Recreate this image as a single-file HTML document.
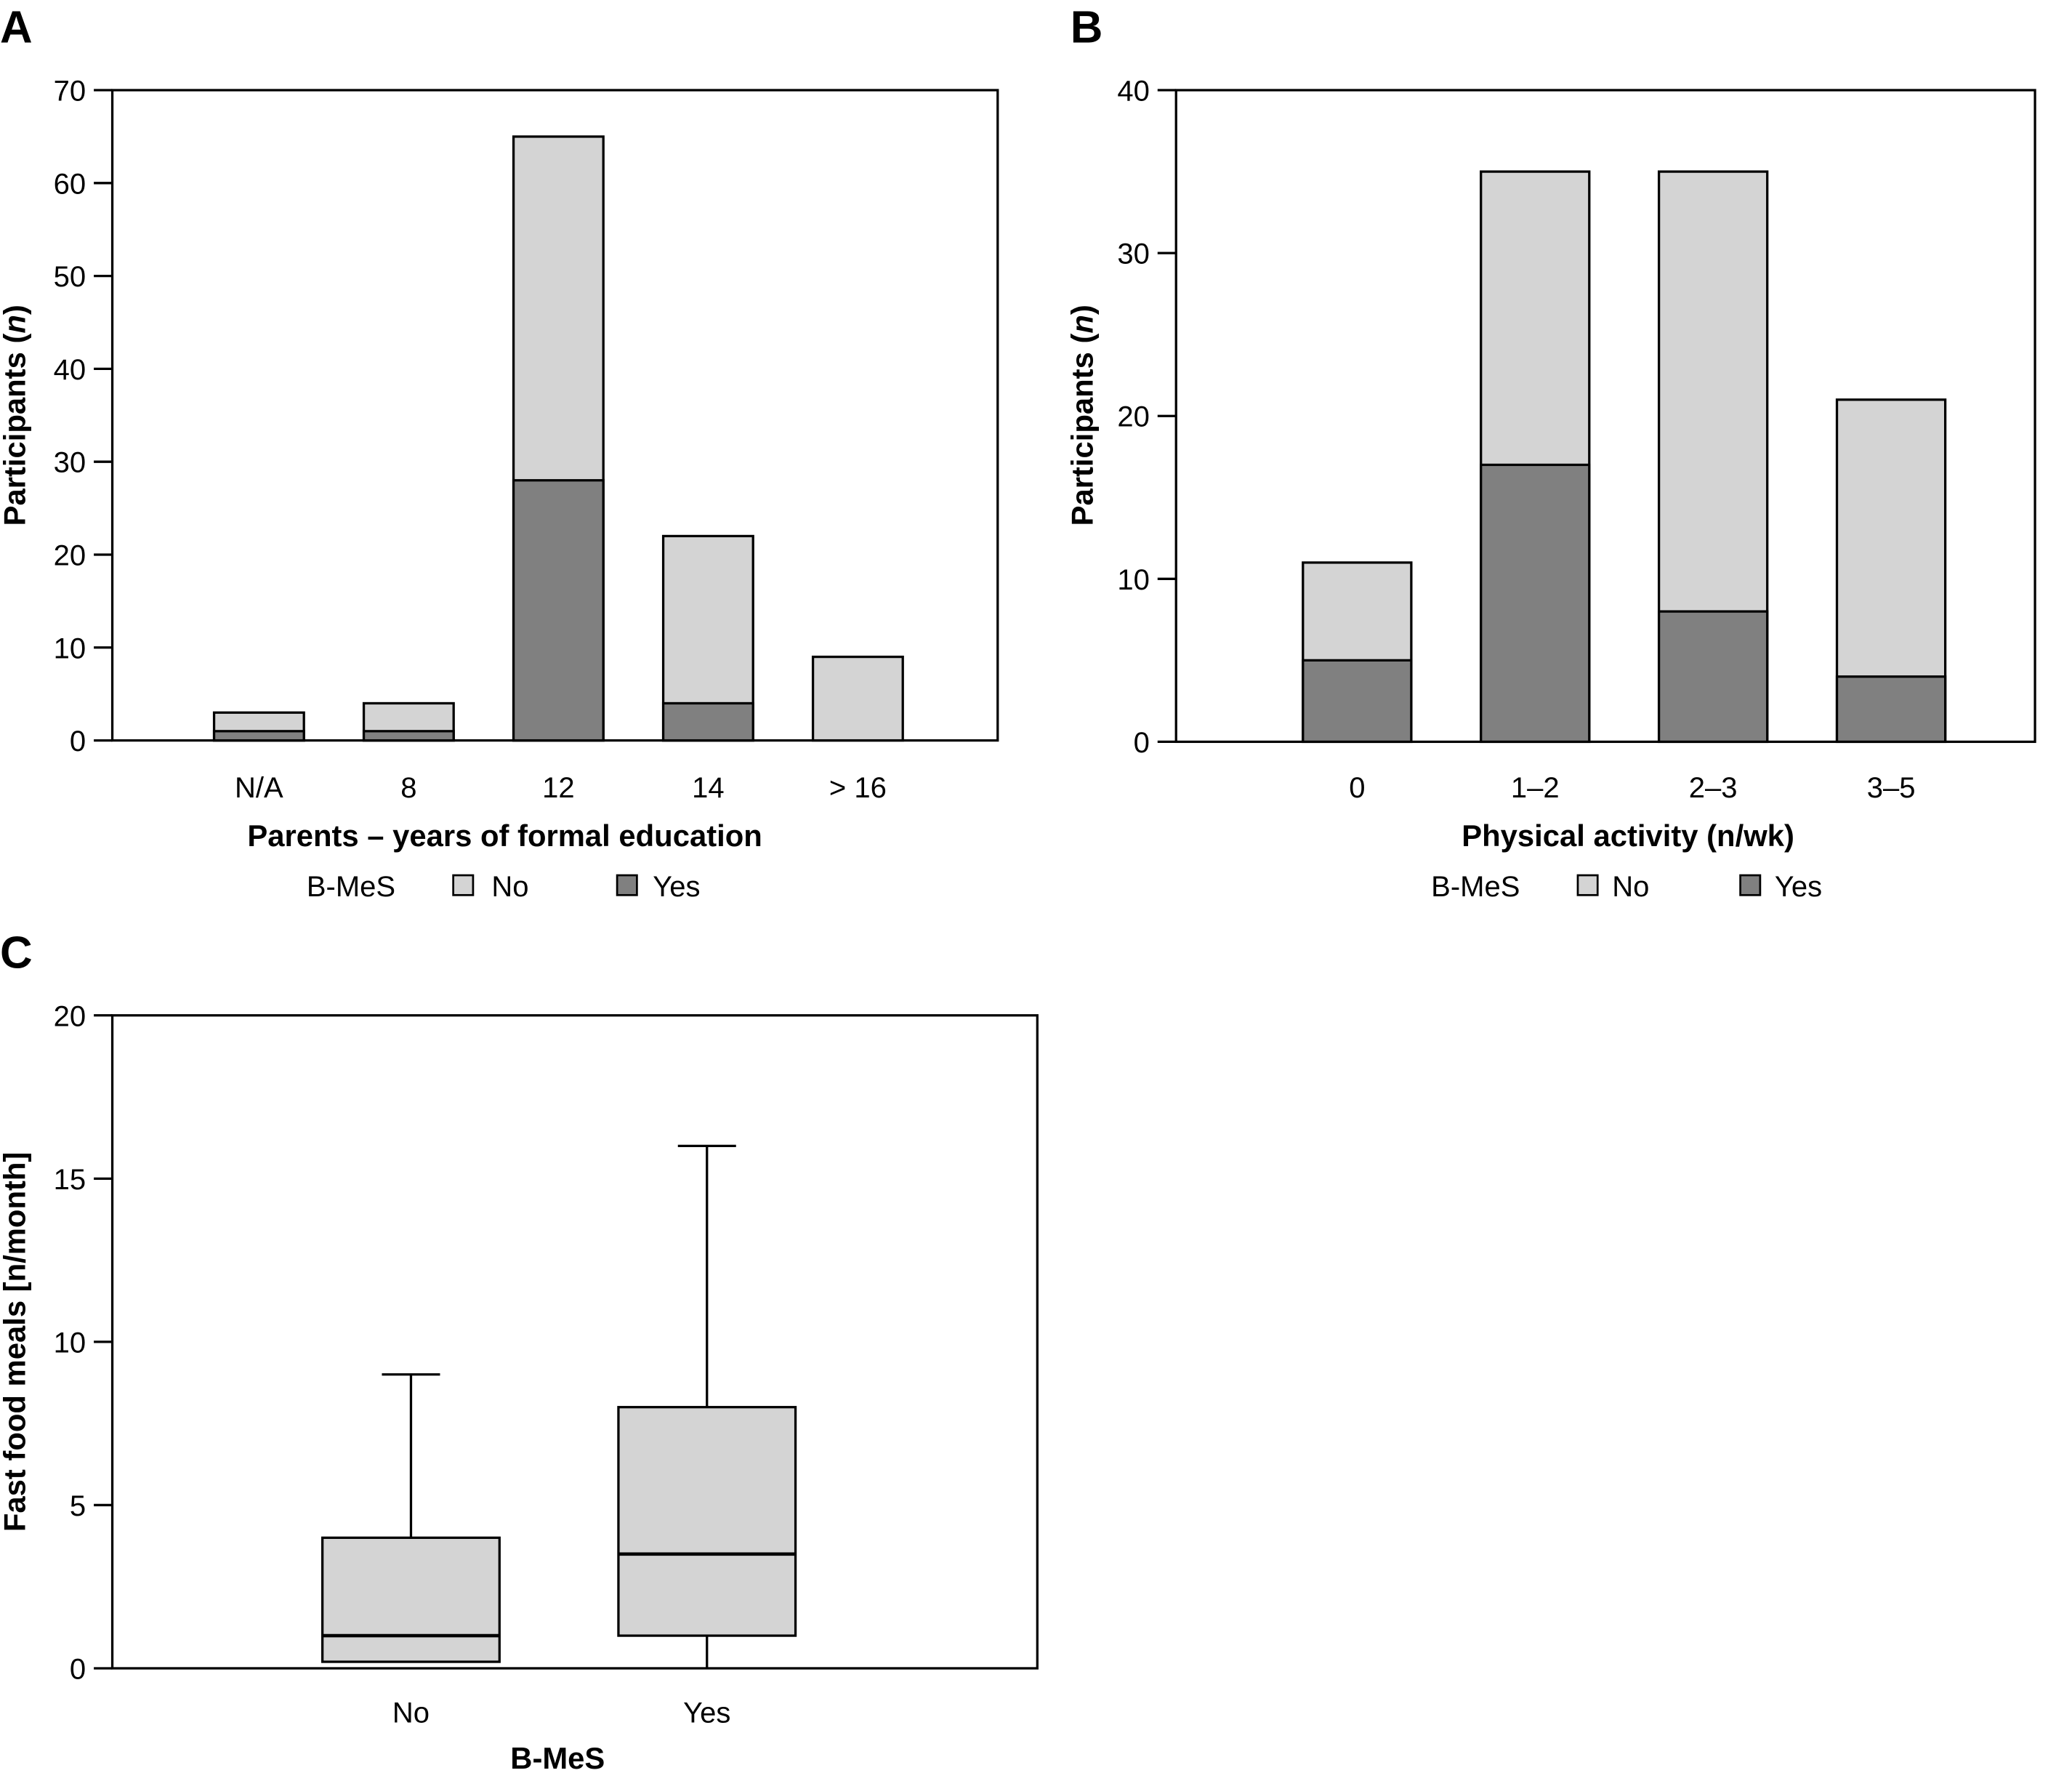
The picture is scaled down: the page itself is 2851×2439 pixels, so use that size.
<!DOCTYPE html>
<html><head><meta charset="utf-8">
<style>
html,body{margin:0;padding:0;background:#fff;}
svg{display:block;font-family:"Liberation Sans","DejaVu Sans",sans-serif;}
</style></head>
<body>
<svg id="fig" width="2851" height="2439" viewBox="0 0 1568 1341" xmlns="http://www.w3.org/2000/svg"></svg>
<script>
// Panel A data
const catsA = ["N/A","8","12","14","> 16"];
const totalA = [3,4,65,22,9];
const yesA = [1,1,28,4,0];
const ticksA = [0,10,20,30,40,50,60,70];
// Panel B data
const catsB = ["0","1–2","2–3","3–5"];
const totalB = [11,35,35,21];
const yesB = [5,17,8,4];
const ticksB = [0,10,20,30,40];
// Panel C data
const catsC = ["No","Yes"];
const minC = [0.2,0];
const q1C = [0.2,1];
const medC = [1,3.5];
const q3C = [4,8];
const maxC = [9,16];
const ticksC = [0,5,10,15,20];

const svg = document.getElementById('fig');
const NS = "http://www.w3.org/2000/svg";
function mk(tag, attrs, text){
  const e = document.createElementNS(NS, tag);
  for (const k in attrs) e.setAttribute(k, attrs[k]);
  if (text !== undefined) e.textContent = text;
  svg.appendChild(e);
  return e;
}
const LIGHT="#d4d4d4", DARK="#808080";

function axes(x0,x1,y0,y1,ticks,ymax,label,prefix){
  const sy = v => y1 - (y1-y0)*v/ymax;
  let r = mk('rect',{x:x0,y:y0,width:x1-x0,height:y1-y0,fill:'none',stroke:'#000','stroke-width':1.8});
  
  
  ticks.forEach(t=>{
    let l = mk('line',{x1:x0-14,x2:x0,y1:sy(t),y2:sy(t),stroke:'#000','stroke-width':1.8});
    
    
    let tx = mk('text',{x:x0-20,y:sy(t)+8,'text-anchor':'end','font-size':22},String(t));
    
    
  });
  return sy;
}
function ylabel(x,cy,html,prefix){
  const t = mk('text',{transform:`translate(${x},${cy}) rotate(-90)`,'text-anchor':'middle','font-size':23,'font-weight':'bold'});
  t.innerHTML = html;
  
  
}
function legend(lx,bx1,nx,bx2,yx,prefix){
  let t = mk('text',{x:lx,y:678,'font-size':22},'B-MeS');
  
  
  let b1 = mk('rect',{x:bx1,y:662,width:15,height:15,fill:LIGHT,stroke:'#000','stroke-width':1.5});
  
  
  let t1 = mk('text',{x:nx,y:678,'font-size':22},'No');
  
  
  let b2 = mk('rect',{x:bx2,y:662,width:15,height:15,fill:DARK,stroke:'#000','stroke-width':1.5});
  
  
  let t2 = mk('text',{x:yx,y:678,'font-size':22},'Yes');
  
  
}
function panelLetter(x,y,s){
  const t = mk('text',{x:x,y:y,'font-size':34,'font-weight':'bold'},s);
  
  
}
function stacked(cats,total,yes,centers,bw,sy,prefix){
  cats.forEach((c,i)=>{
    const x = centers[i]-bw/2;
    let r = mk('rect',{x:x,y:sy(total[i]),width:bw,height:sy(0)-sy(total[i]),fill:LIGHT,stroke:'#000','stroke-width':1.8});
    
    
    if (yes[i]>0){
      let r2 = mk('rect',{x:x,y:sy(yes[i]),width:bw,height:sy(0)-sy(yes[i]),fill:DARK,stroke:'#000','stroke-width':1.8});
      
      
    }
    let t = mk('text',{x:centers[i],y:603,'text-anchor':'middle','font-size':22},c);
    
    
  });
}

// Panel A
panelLetter(0,32,'A');
const syA = axes(85,755,68,560,ticksA,70,'','a');
ylabel(19,314,'Participants (<tspan font-style="italic">n</tspan>)','a');
const xA = i => 196 + i*113.3;
stacked(catsA,totalA,yesA,catsA.map((_,i)=>xA(i)),68,syA,'a');
let xtA = mk('text',{x:382,y:640,'text-anchor':'middle','font-size':23,'font-weight':'bold'},'Parents – years of formal education');


legend(232,343,372,467,494,'a');

// Panel B
panelLetter(810,32,'B');
const syB = axes(890,1540,68,561,ticksB,40,'','b');
ylabel(827,314,'Participants (<tspan font-style="italic">n</tspan>)','b');
const xB = i => 1027 + i*134.7;
stacked(catsB,totalB,yesB,catsB.map((_,i)=>xB(i)),82,syB,'b');
let xtB = mk('text',{x:1232,y:640,'text-anchor':'middle','font-size':23,'font-weight':'bold'},'Physical activity (n/wk)');


legend(1083,1194,1220,1317,1343,'b');

// Panel C
panelLetter(0,732,'C');
const syC = axes(85,785,768,1262,ticksC,20,'','c');
ylabel(19,1015,'Fast food meals [n/month]','c');
const xC = i => 311 + i*224;
catsC.forEach((c,i)=>{
  const cx = xC(i), bw=134;
  let w1 = mk('line',{x1:cx,x2:cx,y1:syC(maxC[i]),y2:syC(q3C[i]),stroke:'#000','stroke-width':1.8});
  
  
  let cap = mk('line',{x1:cx-22,x2:cx+22,y1:syC(maxC[i]),y2:syC(maxC[i]),stroke:'#000','stroke-width':1.8});
  
  
  let w2 = mk('line',{x1:cx,x2:cx,y1:syC(minC[i]),y2:syC(q1C[i]),stroke:'#000','stroke-width':1.8});
  
  
  let b = mk('rect',{x:cx-bw/2,y:syC(q3C[i]),width:bw,height:syC(q1C[i])-syC(q3C[i]),fill:LIGHT,stroke:'#000','stroke-width':1.8});
  
  
  let m = mk('line',{x1:cx-bw/2,x2:cx+bw/2,y1:syC(medC[i]),y2:syC(medC[i]),stroke:'#000','stroke-width':2.5});
  
  
  let t = mk('text',{x:cx,y:1303,'text-anchor':'middle','font-size':22},c);
  
  
});
let xtC = mk('text',{x:422,y:1338,'text-anchor':'middle','font-size':23,'font-weight':'bold'},'B-MeS');


</script>
</body></html>
